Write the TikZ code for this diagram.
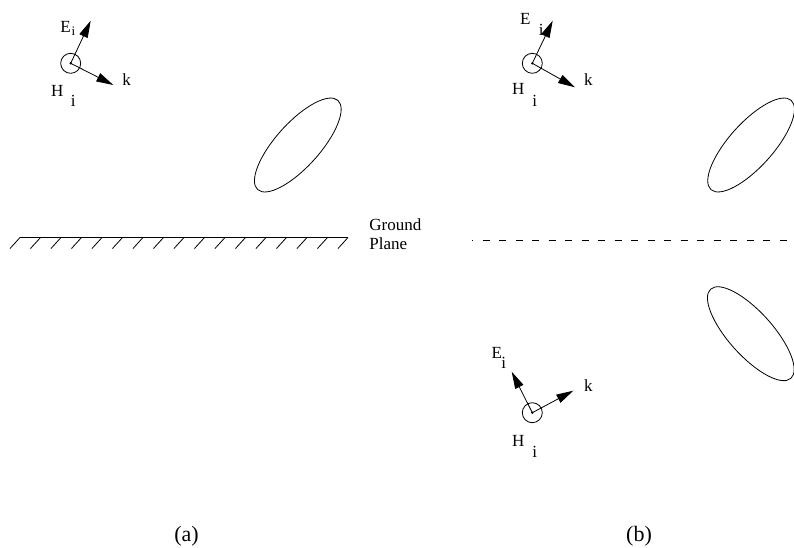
\documentclass[tikz,border=0pt]{standalone}
\usepackage{fontspec}
\setmainfont{Liberation Serif}
\usetikzlibrary{arrows.meta}

\begin{document}
\begin{tikzpicture}[x=1pt, y=-1pt, line width=0.8pt,
  every node/.style={font=\fontsize{17}{20}\selectfont, inner sep=0pt},
  hfield/.style={draw, circle, minimum size=20pt},
  vec/.style={-{Triangle[length=17pt, width=9pt]}},
  caption/.style={font=\fontsize{22}{26}\selectfont}]
  \clip (0,0) rectangle (794,547);

  % (a) incident field above the ground plane
  \node[hfield] (hA) at (70.7,63.3) {};
  \fill (hA.center) circle (1.3);
  \coordinate (eA) at (90.7,20.7);
  \coordinate (kA) at (113.3,85);
  \draw[vec] (hA.center) -- (eA);
  \draw[vec] (hA.center) -- (kA);
  \node (eAlbl) at (65.5,26.5) {E};
  \node (eAsub) at (73.5,31) {\fontsize{13}{15}\selectfont i};
  \node (kAlbl) at (126.7,79.5) {k};
  \node (hAlbl) at (57.3,90.5) {H};
  \node (hAsub) at (73.3,101) {i};
  \draw[rotate around={48:(297.8,145)}] (297.8,145) ellipse [x radius=60, y radius=22];

  \draw (20,237.5) -- (348,237.5);
  \foreach \i in {0,...,16}
    \draw (20+20.5*\i,237.5) -- ++(-10,11);
  \node[anchor=base west] (ground) at (369,230) {Ground};
  \node[anchor=base west] (plane) at (369,249) {Plane};

  % (b) equivalent problem with image
  \node[hfield] (hB) at (532.3,63.3) {};
  \fill (hB.center) circle (1.3);
  \coordinate (eB) at (552.7,20.7);
  \coordinate (kB) at (575,87.3);
  \draw[vec] (hB.center) -- (eB);
  \draw[vec] (hB.center) -- (kB);
  \node (eBlbl) at (525.3,19.2) {E};
  \node (eBsub) at (541.3,30) {i};
  \node (kBlbl) at (588.3,80) {k};
  \node (hBlbl) at (518.3,89.2) {H};
  \node (hBsub) at (534.7,101.3) {i};
  \draw[rotate around={48:(751.1,145)}] (751.1,145) ellipse [x radius=60, y radius=22];

  \draw[dash pattern=on 7pt off 9.5pt, dash phase=6pt] (472,240) -- (794,240);

  \node[hfield] (hC) at (532.3,412.7) {};
  \fill (hC.center) circle (1.3);
  \coordinate (eC) at (511.7,371.7);
  \coordinate (kC) at (573.3,390.7);
  \draw[vec] (hC.center) -- (eC);
  \draw[vec] (hC.center) -- (kC);
  \node (eClbl) at (496.7,353.3) {E};
  \node (eCsub) at (503.8,363.3) {i};
  \node (kClbl) at (588.3,385.5) {k};
  \node (hClbl) at (518.3,440.5) {H};
  \node (hCsub) at (534.7,452) {i};
  \draw[rotate around={-48:(750.8,333.7)}] (750.8,333.7) ellipse [x radius=60, y radius=22];

  \node[caption] (capA) at (186.5,536) {(a)};
  \node[caption] (capB) at (639,536) {(b)};
\end{tikzpicture}
\end{document}
